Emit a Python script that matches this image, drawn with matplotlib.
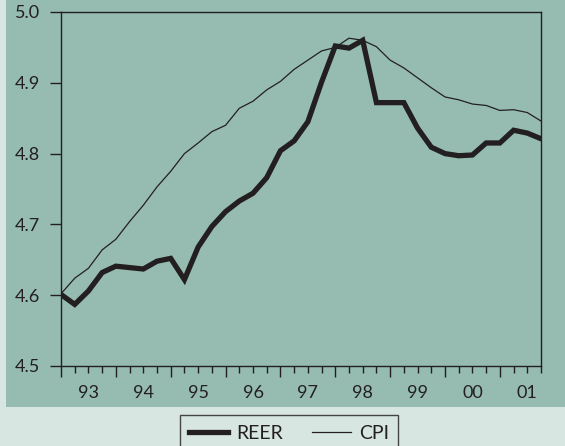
import matplotlib
matplotlib.use("Agg")
import matplotlib.pyplot as plt
from matplotlib.patches import Rectangle

# quarterly observations, 1993Q1 onwards (log index values)
reer = [4.601, 4.587, 4.606, 4.632, 4.641, 4.639, 4.637, 4.648, 4.652, 4.622,
        4.668, 4.697, 4.718, 4.733, 4.744, 4.766, 4.804, 4.818, 4.845, 4.901,
        4.952, 4.949, 4.960, 4.872, 4.872, 4.872, 4.836, 4.809, 4.800, 4.797,
        4.798, 4.815, 4.815, 4.833, 4.829, 4.821]
cpi = [4.602, 4.624, 4.638, 4.664, 4.679, 4.704, 4.727, 4.753, 4.775, 4.800,
       4.815, 4.831, 4.840, 4.864, 4.874, 4.890, 4.902, 4.919, 4.932, 4.945,
       4.950, 4.963, 4.960, 4.951, 4.932, 4.921, 4.907, 4.893, 4.880, 4.876,
       4.870, 4.868, 4.861, 4.862, 4.858, 4.846]
year_labels = ["93", "94", "95", "96", "97", "98", "99", "00", "01"]
yticks = [4.5, 4.6, 4.7, 4.8, 4.9, 5.0]

ink = "#231f20"
panel = "#96bcb2"
outer = "#d8e6e2"

plt.rcParams['font.family'] = ['Lato', 'DejaVu Sans']

fig = plt.figure(figsize=(5.65, 4.46), dpi=100)
fig.patch.set_facecolor(outer)
# darker panel behind the chart
fig.patches.append(Rectangle((6 / 565, 1 - 406.5 / 446), 1, 406.5 / 446,
                             transform=fig.transFigure, facecolor=panel,
                             edgecolor="none", zorder=-5))

ax = fig.add_axes([61 / 565, 80 / 446, 480 / 565, 354 / 446])
ax.set_facecolor(panel)

x = list(range(len(reer)))
ax.plot(x, cpi, color=ink, linewidth=0.9, label="CPI", solid_joinstyle="miter")
ax.plot(x, reer, color=ink, linewidth=3.8, label="REER", solid_joinstyle="miter")

ax.set_xlim(0, len(reer) - 1)
ax.set_ylim(4.5, 5.0)
ax.set_yticks(yticks)
ax.set_yticklabels([f"{v:.1f}" for v in yticks])

# long ticks at year boundaries, short ticks every quarter, labels mid-year
ax.set_xticks(range(0, len(reer), 4))
ax.set_xticklabels([])
ax.set_xticks(range(len(reer)), minor=True)
minor_lab = [""] * len(reer)
for i, lab in enumerate(year_labels):
    minor_lab[2 + 4 * i] = lab
ax.set_xticklabels(minor_lab, minor=True)

ax.tick_params(axis="x", which="major", direction="out", length=8, width=1, color=ink)
ax.tick_params(axis="x", which="minor", direction="out", length=5, width=1, color=ink,
               labelsize=13, labelcolor=ink, pad=9)
ax.tick_params(axis="y", direction="out", length=8, width=1, color=ink,
               labelsize=13, labelcolor=ink, pad=7)
for s in ax.spines.values():
    s.set_color(ink)
    s.set_linewidth(1)

handles, labels = ax.get_legend_handles_labels()
leg = fig.legend(handles[::-1], labels[::-1], loc="upper center",
                 bbox_to_anchor=(289 / 565, 31 / 446), ncol=2, fontsize=14,
                 frameon=True, fancybox=False, handlelength=2.0,
                 handletextpad=0.4, columnspacing=1.5, borderpad=0.5,
                 borderaxespad=0)
leg.get_frame().set_facecolor(outer)
leg.get_frame().set_edgecolor("#444444")
leg.get_frame().set_linewidth(1)
leg.get_frame().set_alpha(1)
for t in leg.get_texts():
    t.set_color(ink)

fig.savefig("out.png", dpi=100, facecolor=outer)
